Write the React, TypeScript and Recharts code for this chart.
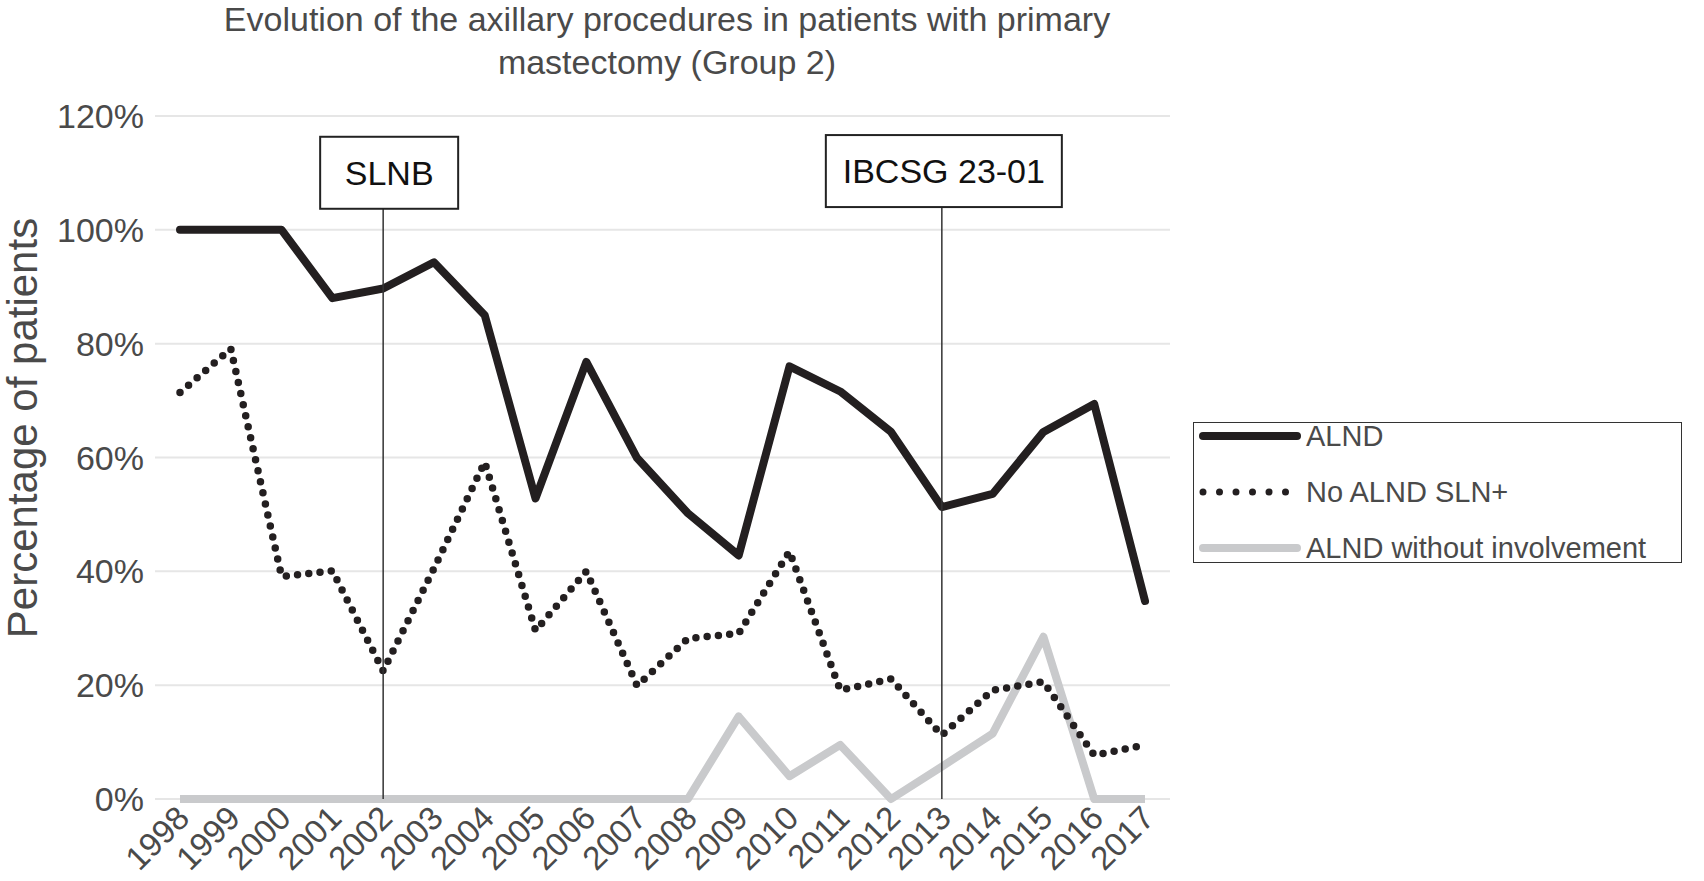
import React from 'react'
import {
  LineChart,
  Line,
  XAxis,
  YAxis,
  CartesianGrid,
  ReferenceLine,
  Legend
} from 'recharts'

const years = [
  '1998', '1999', '2000', '2001', '2002', '2003', '2004', '2005', '2006', '2007',
  '2008', '2009', '2010', '2011', '2012', '2013', '2014', '2015', '2016', '2017'
]
const alnd = [100, 100, 100, 88, 89.7, 94.3, 85, 52.8, 76.8, 59.9, 50.2, 42.8, 76, 71.6, 64.5, 51.3, 53.6, 64.5, 69.4, 34.8]
const noAlndSln = [71.4, 79.1, 39.1, 40.1, 22.5, 40.5, 59.2, 29.6, 40, 19.9, 28.2, 29.1, 43.5, 19.1, 21.1, 11.2, 19.1, 20.6, 7.7, 9.5]
const withoutInvolvement = [0, 0, 0, 0, 0, 0, 0, 0, 0, 0, 0, 14.5, 4, 9.5, 0, 5.7, 11.5, 28.5, 0, 0]
const yTicks = [0, 20, 40, 60, 80, 100, 120]

const data = years.map((year, i) => ({
  year,
  alnd: alnd[i],
  noAlnd: noAlndSln[i],
  without: withoutInvolvement[i]
}))

const FONT = '"Liberation Sans", Arial, Helvetica, sans-serif'
const BLACK = '#231f20'
const GREY = '#c9cacc'
const TEXT = '#4a4a4a'

function XTick({ x, y, payload }: any) {
  return (
    <g transform={`translate(${x + 3},${y + 5})`}>
      <text
        transform="rotate(-45)"
        textAnchor="end"
        dominantBaseline="central"
        fontSize={33}
        fill={TEXT}
        fontFamily={FONT}
      >
        {payload.value}
      </text>
    </g>
  )
}

function BoxLabel({ viewBox, text, left, width }: any) {
  const lx = viewBox.x
  const top = viewBox.y
  return (
    <g>
      <rect x={lx - left} y={top - 72} width={width} height={72} fill="#fff" stroke="#222" strokeWidth={2} />
      <text
        x={lx - left + width / 2}
        y={top - 36}
        textAnchor="middle"
        dominantBaseline="central"
        fontSize={34}
        fontFamily={FONT}
        fill="#111"
      >
        {text}
      </text>
    </g>
  )
}

function LegendBox({ payload }: any) {
  return (
    <div
      style={{
        position: 'relative',
        width: 489,
        height: 141,
        border: '1.5px solid #333',
        boxSizing: 'border-box',
        background: '#fff',
        fontFamily: FONT
      }}
    >
      {(payload || []).map((entry: any, i: number) => {
        const key = entry.dataKey
        return (
          <div
            key={i}
            style={{ position: 'absolute', left: 5, top: 1 + i * 56, height: 24, display: 'flex', alignItems: 'center', whiteSpace: 'nowrap' }}
          >
            <svg width={104} height={24}>
              {key === 'noAlnd' ? (
                <line x1={4} y1={12} x2={96} y2={12} stroke={BLACK} strokeWidth={7} strokeLinecap="round" strokeDasharray="0 16.5" />
              ) : (
                <line
                  x1={4}
                  y1={12}
                  x2={98}
                  y2={12}
                  stroke={key === 'alnd' ? BLACK : GREY}
                  strokeWidth={8}
                  strokeLinecap="round"
                />
              )}
            </svg>
            <span style={{ fontSize: 29, color: TEXT, marginLeft: 3, lineHeight: '24px' }}>{entry.value}</span>
          </div>
        )
      })}
    </div>
  )
}

export default function App() {
  return (
    <div style={{ position: 'absolute', left: 0, top: 0, width: 1704, height: 881, background: '#fff' }}>
      <div
        style={{
          position: 'absolute',
          left: 0,
          top: -2,
          width: 1334,
          textAlign: 'center',
          fontFamily: FONT,
          fontSize: 34,
          lineHeight: '43px',
          color: TEXT
        }}
      >
        Evolution of the axillary procedures in patients with primary
        <br />
        mastectomy (Group 2)
      </div>
      <LineChart
        width={1704}
        height={881}
        data={data}
        margin={{ top: 116, right: 45, left: 0, bottom: 0 }}
        style={{ position: 'absolute', left: 0, top: 0 }}
      >
        <CartesianGrid vertical={false} stroke="#e6e6e6" strokeWidth={2} />
        <XAxis
          dataKey="year"
          axisLine={false}
          tickLine={false}
          height={82}
          interval={0}
          padding={{ left: 25, right: 25 }}
          tick={<XTick />}
        />
        <YAxis
          domain={[0, 120]}
          ticks={yTicks}
          width={155}
          axisLine={false}
          tickLine={false}
          tickMargin={5}
          tickFormatter={(v: number) => `${v}%`}
          tick={{ fontSize: 34, fill: TEXT, fontFamily: FONT }}
          label={{
            content: () => (
              <text
                x={22}
                y={428}
                transform="rotate(-90 22 428)"
                textAnchor="middle"
                dominantBaseline="central"
                fontSize={42}
                fill={TEXT}
                fontFamily={FONT}
              >
                Percentage of patients
              </text>
            )
          }}
        />
        <Line
          dataKey="without"
          name="ALND without involvement"
          stroke={GREY}
          strokeWidth={8}
          dot={false}
          strokeLinejoin="round"
          isAnimationActive={false}
        />
        <Line
          dataKey="noAlnd"
          name="No ALND SLN+"
          stroke={BLACK}
          strokeWidth={7.5}
          strokeDasharray="0 11.3"
          strokeLinecap="round"
          dot={false}
          isAnimationActive={false}
        />
        <Line
          dataKey="alnd"
          name="ALND"
          stroke={BLACK}
          strokeWidth={8}
          strokeLinejoin="round"
          strokeLinecap="round"
          dot={false}
          isAnimationActive={false}
        />
        <ReferenceLine
          segment={[{ x: '2002', y: 0 }, { x: '2002', y: 103.7 }]}
          stroke="#333"
          strokeWidth={1.5}
          label={<BoxLabel text="SLNB" left={63} width={138} />}
        />
        <ReferenceLine
          segment={[{ x: '2013', y: 0 }, { x: '2013', y: 104 }]}
          stroke="#333"
          strokeWidth={1.5}
          label={<BoxLabel text="IBCSG 23-01" left={116} width={236} />}
        />
        <Legend
          layout="vertical"
          align="right"
          verticalAlign="middle"
          content={(props: any) => {
            const order = ['alnd', 'noAlnd', 'without']
            const sorted = [...(props.payload || [])].sort(
              (a: any, b: any) => order.indexOf(a.dataKey) - order.indexOf(b.dataKey)
            )
            return <LegendBox payload={sorted} />
          }}
          wrapperStyle={{ position: 'absolute', left: 1193, top: 422, width: 489, height: 141 }}
        />
      </LineChart>
    </div>
  )
}
